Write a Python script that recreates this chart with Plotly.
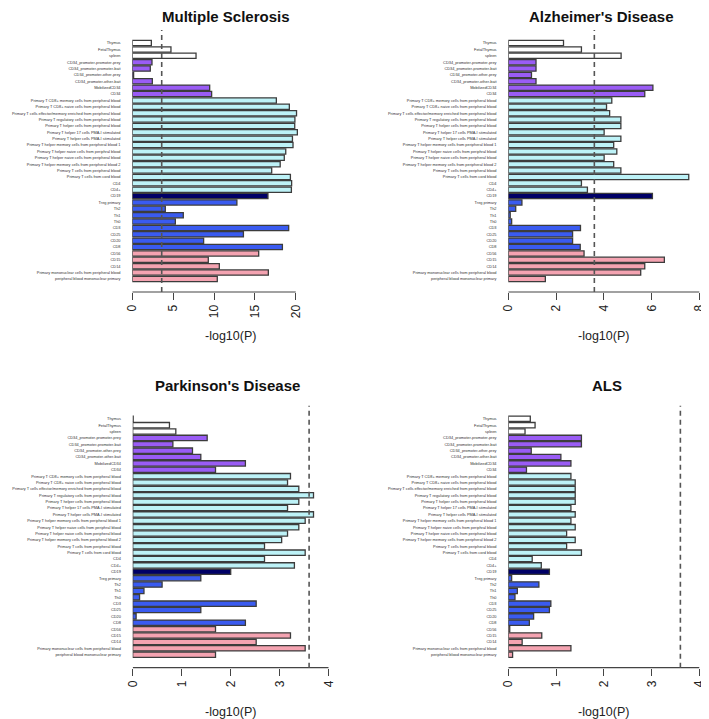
import plotly.graph_objects as go

# cell types, top to bottom
labels = [
    "Thymus", "FetalThymus", "spleen",
    "CD34_promoter-promoter-prey", "CD34_promoter-promoter-bait",
    "CD34_promoter-other-prey", "CD34_promoter-other-bait",
    "MobilizedCD34", "CD34",
    "Primary T CD8+ memory cells from peripheral blood",
    "Primary T CD8+ naive cells from peripheral blood",
    "Primary T cells effector/memory enriched from peripheral blood",
    "Primary T regulatory cells from peripheral blood",
    "Primary T helper cells from peripheral blood",
    "Primary T helper 17 cells PMA-I stimulated",
    "Primary T helper cells PMA-I stimulated",
    "Primary T helper memory cells from peripheral blood 1",
    "Primary T helper naive cells from periphral blood",
    "Primary T helper naive cells from peripheral blood",
    "Primary T helper memory cells from peripheral blood 2",
    "Primary T cells from peripheral blood",
    "Primary T cells from cord blood",
    "CD4", "CD4+", "CD19", "Treg primary", "Th2", "Th1", "Th0",
    "CD3", "CD25", "CD20", "CD8", "CD56", "CD15", "CD14",
    "Primary mononuclear cells from peripheral blood",
    "peripheral blood mononuclear primary",
]
group_sizes = [3, 6, 15, 1, 8, 5]
group_colors = ["#FFFFFF", "#9A5CF5", "#BDF2F7", "#000066", "#3A5BF0", "#F4A3B1"]

ms = [2.33, 4.73, 7.8, 2.41, 2.2, 0.16, 2.45, 9.47, 9.71,
      17.63, 19.22, 20.1, 19.9, 19.88, 20.2, 19.6, 19.67, 18.78, 18.6, 18.1, 17.06, 19.35,
      19.5, 19.47, 16.6, 12.8, 4.04, 6.24, 5.27, 19.14, 13.6, 8.73, 18.37,
      15.47, 9.3, 10.65, 16.65, 10.4]
ad = [2.31, 3.06, 4.72, 1.16, 1.16, 0.97, 1.16, 6.05, 5.71,
      4.33, 4.11, 4.24, 4.71, 4.71, 4.01, 4.71, 4.41, 4.54, 4.01, 4.41, 4.71, 7.55,
      3.06, 3.31, 6.03, 0.57, 0.31, 0.08, 0.14, 3.02, 2.69, 2.69, 3.01,
      3.17, 6.53, 5.71, 5.54, 1.55]
pdz = [0.01, 0.75, 0.88, 1.52, 0.82, 1.22, 1.39, 2.3, 1.69,
       3.22, 3.16, 3.39, 3.69, 3.39, 3.16, 3.69, 3.52, 3.39, 3.16, 3.04, 2.69, 3.52,
       2.69, 3.3, 2.0, 1.39, 0.6, 0.23, 0.14, 2.52, 1.39, 0.07, 2.3,
       1.69, 3.22, 2.52, 3.52, 1.69]
als = [0.46, 0.56, 0.35, 1.53, 1.53, 0.48, 1.1, 1.31, 0.38,
       1.31, 1.4, 1.4, 1.4, 1.4, 1.31, 1.4, 1.31, 1.4, 1.22, 1.4, 1.22, 1.53,
       0.5, 0.69, 0.86, 0.07, 0.64, 0.19, 0.14, 0.89, 0.86, 0.53, 0.44,
       0.03, 0.7, 0.29, 1.31, 0.09]

titles = ["Multiple Sclerosis", "Alzheimer's Disease", "Parkinson's Disease", "ALS"]
series = [ms, ad, pdz, als]
xmax = [24, 8, 4, 4]
xlast = [20, 8, 4, 4]
xstep = [5, 2, 1, 1]
cutoff = 3.6

colors = []
for n, c in zip(group_sizes, group_colors):
    colors += [c] * n

# page has an 8px body margin, so the figure is 8px smaller and shifted
OFF = 8
W, H = 709 - OFF, 719 - OFF
def px(v):
    return (v - OFF) / W
def py(v):
    return 1 - (v - OFF) / H

# plot regions in window pixels (left, right, top, bottom)
boxes = [(132.3, 328.4, 30, 292), (508.3, 699.5, 30, 292),
         (132.7, 328.7, 405.7, 667.7), (508.3, 699.5, 405.7, 667.7)]
title_x = [226, 601, 228, 607]
title_y = [16, 16, 385, 385]

fig = go.Figure()
layout = dict(width=W, height=H, margin=dict(l=0, r=0, t=0, b=0),
              paper_bgcolor="white", plot_bgcolor="white", showlegend=False,
              bargap=1/6, shapes=[], annotations=[],
              font=dict(family="Liberation Sans, Arial", color="#222"))

for i in range(4):
    k = "" if i == 0 else str(i + 1)
    l, r, t, b = boxes[i]
    fig.add_trace(go.Bar(x=series[i], y=labels, orientation="h",
                         marker=dict(color=colors, line=dict(color="#3c3c3c", width=1.3)),
                         xaxis="x" + k, yaxis="y" + k))
    layout["xaxis" + k] = dict(domain=[px(l), px(r)], anchor="y" + k, range=[0, xmax[i]],
                               automargin=False, ticklabeloverflow="allow",
                               tickmode="linear", tick0=0, dtick=xstep[i],
                               ticks="outside", ticklen=7, tickwidth=1.2, tickcolor="#444",
                               tickangle=-90, tickfont=dict(size=12, color="#222"),
                               showline=False, showgrid=False, zeroline=False)
    layout["yaxis" + k] = dict(domain=[py(b), py(t)], anchor="x" + k, type="category",
                               automargin=False, ticklabeloverflow="allow",
                               categoryorder="array", categoryarray=labels,
                               range=[len(labels) - 1 + 2.05, -2.05],
                               ticks="outside", ticklen=10, tickcolor="rgba(0,0,0,0)",
                               tickfont=dict(size=3.9, color="#333"),
                               showline=False, showgrid=False, zeroline=False)
    # axis line from 0 to last tick, like base R
    layout["shapes"].append(dict(type="line", xref="x" + k, yref="y" + k + " domain",
                                 x0=0, x1=xlast[i], y0=0, y1=0,
                                 line=dict(color="#444", width=1.2)))
    layout["shapes"].append(dict(type="line", xref="x" + k, yref="y" + k + " domain",
                                 x0=cutoff, x1=cutoff, y0=0, y1=1,
                                 line=dict(color="#555", width=1.6, dash="5px,4px")))
    layout["annotations"].append(dict(text="<b>" + titles[i] + "</b>", xref="paper", yref="paper",
                                      x=px(title_x[i]), y=py(title_y[i]), showarrow=False,
                                      xanchor="center", yanchor="middle",
                                      font=dict(size=15, color="#111")))
    layout["annotations"].append(dict(text="-log10(P)", xref="paper", yref="paper",
                                      x=px((l + r) / 2), y=py(b + 44), showarrow=False,
                                      xanchor="center", yanchor="middle",
                                      font=dict(size=12.5, color="#222")))

fig.update_layout(**layout)
fig.write_html("out.html")
